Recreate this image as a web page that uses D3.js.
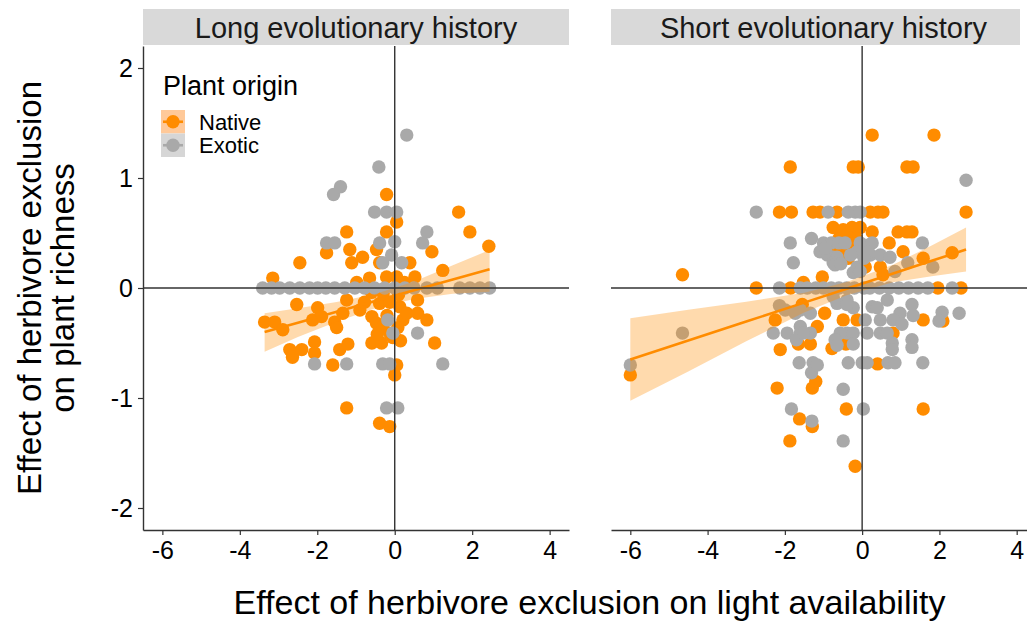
<!DOCTYPE html>
<html>
<head>
<meta charset="utf-8">
<script src="https://cdn.jsdelivr.net/npm/d3@7"></script>
<style>
  body { margin: 0; background: #fff; }
  svg { display: block; font-family: "Liberation Sans", Arial, sans-serif; }
</style>
</head>
<body>
<svg id="chart" width="1027" height="621"></svg>
<script>
// ---------------- data ----------------
const panelNames = ["Long evolutionary history", "Short evolutionary history"];
const xTicks = [-6, -4, -2, 0, 2, 4];
const yTicks = [-2, -1, 0, 1, 2];
const legendTitle = "Plant origin";
const groups = ["Native", "Exotic"];
const xTitle = "Effect of herbivore exclusion on light availability";
const yTitleLines = ["Effect of herbivore exclusion", "on plant richness"];

// Long evolutionary history - native plants [light effect, richness effect]
const longNative = [
  [-0.21,0.85],[0.05,0.60],[-1.24,0.51],[-0.21,0.51],[-1.16,0.35],[-1.76,0.32],[-2.45,0.23],
  [-1.11,0.23],[-0.83,0.28],[-0.47,0.35],[-0.39,0.23],[0.39,0.23],[0.96,0.33],[1.24,0.16],
  [1.65,0.69],[1.94,0.51],[2.43,0.38],[-3.15,0.09],[-0.98,0.05],[-0.65,0.09],[-0.21,0.10],
  [0.05,0.10],[0.52,0.10],[-2.53,-0.15],[-1.99,-0.18],[-1.24,-0.11],[-0.90,-0.20],[-0.78,-0.13],
  [-0.39,-0.14],[-0.13,-0.13],[0.13,-0.17],[0.59,-0.11],[-3.36,-0.31],[-3.10,-0.31],[-2.89,-0.38],
  [-2.12,-0.29],[-1.89,-0.26],[-1.55,-0.31],[-1.50,-0.36],[-1.34,-0.23],[-0.59,-0.26],[-0.47,-0.32],
  [-0.31,-0.35],[-0.13,-0.41],[-0.05,-0.45],[0.21,-0.29],[0.31,-0.23],[0.59,-0.23],[0.83,-0.29],
  [-2.71,-0.56],[-2.64,-0.63],[-2.40,-0.56],[-2.07,-0.49],[-2.07,-0.59],[-1.42,-0.56],[-1.21,-0.51],
  [-0.59,-0.50],[-0.34,-0.50],[1.03,-0.50],[-1.60,-0.70],[0.05,-0.70],[0.00,-0.79],[-1.24,-1.09],
  [-0.39,-1.23],[-0.13,-1.26],[-0.30,-0.05],[0.10,-0.06],[-0.20,-0.25],[0.08,-0.36],[-0.60,-0.04],
  [0.25,0.05],[-0.45,-0.42],[0.15,-0.48]
];
// Long evolutionary history - exotic plants
const longExotic = [
  [-3.41,0],[-3.18,0],[-2.97,0],[-2.71,0],[-2.45,0],[-2.20,0],[-1.99,0],[-1.78,0],[-1.55,0],
  [-1.29,0],[-1.03,0],[-0.78,0],[-0.52,0],[-0.26,0],[0.00,0],[0.26,0],[0.50,0],[0.83,0],[1.10,0],
  [1.68,0],[1.94,0],[2.20,0],[2.45,0],
  [0.31,1.39],[-0.41,1.10],[-1.58,0.85],[-1.40,0.92],[-1.76,0.41],[-1.55,0.41],[-0.52,0.69],
  [-0.21,0.69],[0.05,0.69],[-0.39,0.41],[0.00,0.42],[0.83,0.51],[0.72,0.41],[-0.31,0.23],
  [-0.08,0.30],[0.18,0.23],[-0.18,-0.29],[-0.05,-0.41],[0.59,-0.41],[-2.07,-0.69],[-1.24,-0.69],
  [-0.31,-0.69],[-0.13,-0.69],[1.24,-0.69],[-0.21,-1.09],[0.08,-1.09]
];
// Short evolutionary history - native plants
const shortNative = [
  [-1.86,1.10],[0.26,1.39],[1.86,1.39],[-0.23,1.10],[-0.10,1.10],[1.16,1.10],[1.32,1.10],
  [2.69,0.69],[-2.14,0.69],[-1.83,0.69],[-1.27,0.69],[-1.09,0.69],[-0.65,0.69],[0.21,0.69],
  [0.41,0.69],[0.54,0.69],[-0.75,0.55],[-0.49,0.53],[-0.26,0.55],[-0.05,0.55],[0.26,0.51],
  [0.93,0.51],[1.16,0.51],[1.29,0.51],[0.70,0.41],[-0.31,0.37],[-0.49,0.32],[-0.36,0.27],
  [1.06,0.33],[1.58,0.27],[2.33,0.32],[0.47,0.19],[0.08,0.19],[0.54,0.12],[-1.03,0.10],
  [-1.52,0.05],[-4.65,0.12],[-2.74,0],[-1.85,0],[1.96,0],[2.56,0],[-1.55,-0.15],[-2.25,-0.29],
  [-0.97,-0.23],[-0.49,-0.29],[-0.13,-0.29],[-1.16,-0.35],[1.58,-0.29],[2.09,-0.30],[0.80,-0.41],
  [-2.12,-0.56],[-1.65,-0.51],[-1.34,-0.51],[-0.78,-0.55],[-0.42,-0.51],[0.40,-0.69],[-6.00,-0.79],
  [-2.20,-0.91],[-1.29,-0.91],[-1.20,-0.85],[-0.41,-1.10],[1.58,-1.10],[-1.62,-1.19],[-1.29,-1.26],
  [-1.87,-1.39],[-0.18,-1.62],[-0.60,0.45],[-0.40,0.48],[-0.15,0.45],[-0.70,0.35]
];
// Short evolutionary history - exotic plants
const shortExotic = [
  [2.69,0.98],[-2.74,0.69],[-0.88,0.69],[-0.36,0.69],[-0.18,0.69],[-0.05,0.69],[-1.86,0.41],
  [-1.31,0.45],[-1.78,0.23],[-1.00,0.41],[-0.80,0.41],[-0.60,0.41],[-0.44,0.41],[-0.05,0.41],
  [0.16,0.39],[0.26,0.41],[1.56,0.41],[-1.09,0.33],[-0.75,0.28],[-0.90,0.30],[-0.65,0.28],
  [-0.13,0.33],[0.21,0.30],[0.16,0.33],[0.47,0.30],[0.72,0.28],[1.83,0.19],[1.18,0.23],
  [0.85,0.15],[-0.75,0.23],[-0.70,0.21],[-0.23,0.14],[-0.13,0.19],[-0.05,0.15],
  [-2.14,0],[-1.60,0],[-1.42,0],[-1.20,0],[-1.00,0],[-0.80,0],[-0.60,0],[-0.40,0],[-0.20,0],
  [0.05,0],[0.20,0],[0.45,0],[0.70,0],[0.95,0],[1.20,0],[1.45,0],[1.70,0],[2.33,0],
  [-6.00,-0.70],[-4.65,-0.41],[-2.14,-0.16],[-1.99,-0.20],[-1.60,-0.35],[-1.73,-0.23],[-1.34,-0.23],
  [-2.30,-0.41],[-1.94,-0.41],[-1.60,-0.41],[-1.34,-0.41],[-1.70,-0.47],[-1.60,-0.20],
  [-0.75,-0.08],[-0.39,-0.11],[-0.23,-0.18],[-0.65,-0.14],[-0.39,-0.15],[0.26,-0.17],[0.65,-0.11],
  [0.39,-0.18],[0.98,-0.23],[1.29,-0.15],[2.07,-0.22],[2.51,-0.23],[1.99,-0.30],[0.08,-0.29],
  [0.47,-0.29],[0.80,-0.29],[1.03,-0.33],[1.29,-0.47],[1.29,-0.54],[1.32,-0.25],[0.78,-0.50],
  [0.78,-0.56],[-0.39,-0.41],[-0.23,-0.41],[0.13,-0.41],[0.47,-0.41],[0.65,-0.41],[-0.57,-0.41],
  [-0.70,-0.47],[-0.65,-0.52],[-0.23,-0.51],[-1.52,-0.41],[-1.63,-0.68],[-1.27,-0.68],[-0.36,-0.68],
  [0.00,-0.68],[0.13,-0.68],[0.67,-0.68],[0.85,-0.68],[1.57,-0.68],[-1.31,-0.77],[-1.16,-0.70],
  [-0.49,-0.92],[-1.83,-1.10],[0.03,-1.10],[-1.30,-1.21],[-0.49,-1.39],
  [-0.95,0.36],[-0.30,0.30],[0.05,0.27],[-0.55,0.22]
];

// Native linear fits with confidence bands
const longFitX     = [-3.36, -2.5, -1.5, -0.5, 0.5, 1.5, 2.45];
const longFitY     = [-0.40, -0.315, -0.217, -0.119, -0.021, 0.077, 0.17];
const longFitLow   = [-0.58, -0.445, -0.307, -0.184, -0.101, -0.053, -0.035];
const longFitHigh  = [-0.23, -0.185, -0.127, -0.054, 0.059, 0.207, 0.345];
const shortFitX    = [-6, -4.5, -3, -1.5, -0.4, 0.8, 1.8, 2.69];
const shortFitY    = [-0.65, -0.478, -0.305, -0.133, -0.006, 0.132, 0.247, 0.349];
const shortFitLow  = [-1.025, -0.758, -0.485, -0.223, -0.066, 0.052, 0.107, 0.149];
const shortFitHigh = [-0.275, -0.198, -0.125, -0.043, 0.054, 0.212, 0.387, 0.549];

// ---------------- drawing ----------------
const colors = { Native: "#FF8C00", Exotic: "#A9A9A9" };
const svg = d3.select("#chart");
const plotTop = 46, plotBottom = 530;
const panelsX = [[143, 569], [611, 1036]];
const y = d3.scaleLinear().domain([-2.2, 2.2]).range([plotBottom, plotTop]);
const R = 6.7;
const fmt = d => String(d);

const panelData = [
  { native: longNative, exotic: longExotic, fx: longFitX, fy: longFitY, lo: longFitLow, hi: longFitHigh },
  { native: shortNative, exotic: shortExotic, fx: shortFitX, fy: shortFitY, lo: shortFitLow, hi: shortFitHigh }
];

panelData.forEach((pd, i) => {
  const [x0, x1] = panelsX[i];
  const x = d3.scaleLinear().domain([-6.5, 4.5]).range([x0, x1]);
  const g = svg.append("g");

  // strip
  g.append("rect").attr("x", x0).attr("y", 9).attr("width", Math.min(x1, 1020) - x0).attr("height", 36)
    .attr("fill", "#D9D9D9");
  g.append("text").attr("x", (x0 + x1) / 2).attr("y", 38).attr("text-anchor", "middle")
    .attr("font-size", 29).attr("fill", "#1a1a1a").text(panelNames[i]);

  // points
  g.selectAll(".nat").data(pd.native).join("circle")
    .attr("cx", d => x(d[0])).attr("cy", d => y(d[1])).attr("r", R).attr("fill", colors.Native);
  g.selectAll(".exo").data(pd.exotic).join("circle")
    .attr("cx", d => x(d[0])).attr("cy", d => y(d[1])).attr("r", R).attr("fill", colors.Exotic);

  // confidence ribbon
  const band = pd.fx.map((v, k) => ({ x: v, lo: pd.lo[k], hi: pd.hi[k], f: pd.fy[k] }));
  g.append("path").datum(band)
    .attr("d", d3.area().x(d => x(d.x)).y0(d => y(d.lo)).y1(d => y(d.hi)))
    .attr("fill", colors.Native).attr("fill-opacity", 0.32);
  g.append("path").datum(band)
    .attr("d", d3.line().x(d => x(d.x)).y(d => y(d.f)))
    .attr("fill", "none").attr("stroke", colors.Native).attr("stroke-width", 2.6);

  // reference lines at 0
  g.append("line").attr("x1", x0).attr("x2", x1).attr("y1", y(0)).attr("y2", y(0))
    .attr("stroke", "#333").attr("stroke-width", 1.4);
  g.append("line").attr("x1", x(0)).attr("x2", x(0)).attr("y1", plotTop).attr("y2", plotBottom)
    .attr("stroke", "#333").attr("stroke-width", 1.4);

  // x axis
  const xa = g.append("g").attr("transform", `translate(0,${plotBottom})`)
    .call(d3.axisBottom(x).tickValues(xTicks).tickFormat(fmt).tickSize(5).tickSizeOuter(0).tickPadding(6));
  xa.select(".domain").attr("stroke", "#333").attr("stroke-width", 1.4);
  xa.selectAll(".tick line").attr("stroke", "#333").attr("stroke-width", 1.2);
  xa.selectAll(".tick text").attr("font-size", 25).attr("fill", "#000")
    .attr("font-family", "Liberation Sans, Arial, sans-serif");

  if (i === 0) {
    const ya = g.append("g").attr("transform", `translate(${x0},0)`)
      .call(d3.axisLeft(y).tickValues(yTicks).tickFormat(fmt).tickSize(5).tickSizeOuter(0).tickPadding(5));
    ya.select(".domain").attr("stroke", "#333").attr("stroke-width", 1.4);
    ya.selectAll(".tick line").attr("stroke", "#333").attr("stroke-width", 1.2);
    ya.selectAll(".tick text").attr("font-size", 25).attr("fill", "#000")
      .attr("font-family", "Liberation Sans, Arial, sans-serif");

    // legend
    const lg = g.append("g");
    lg.append("text").attr("x", 163).attr("y", 95).attr("font-size", 27).attr("fill", "#000")
      .text(legendTitle);
    const keyFill = { Native: "#FFC999", Exotic: "#D6D6D6" };
    groups.forEach((name, k) => {
      const ky = 110 + k * 23.5;
      lg.append("rect").attr("x", 161).attr("y", ky).attr("width", 24).attr("height", 23.5)
        .attr("fill", keyFill[name]);
      lg.append("line").attr("x1", 163).attr("x2", 183).attr("y1", ky + 11.75).attr("y2", ky + 11.75)
        .attr("stroke", colors[name]).attr("stroke-width", 2.6);
      lg.append("circle").attr("cx", 173).attr("cy", ky + 11.75).attr("r", R).attr("fill", colors[name]);
      lg.append("text").attr("x", 199).attr("y", ky + 19.5).attr("font-size", 22).attr("fill", "#000")
        .text(name);
    });
  }
});

// axis titles
svg.append("text").attr("x", 589.5).attr("y", 614).attr("text-anchor", "middle")
  .attr("font-size", 34).attr("fill", "#000").text(xTitle);
yTitleLines.forEach((t, k) => {
  svg.append("text").attr("transform", `translate(${41 + k * 33},288) rotate(-90)`)
    .attr("text-anchor", "middle").attr("font-size", 33).attr("fill", "#000").text(t);
});
</script>
</body>
</html>
